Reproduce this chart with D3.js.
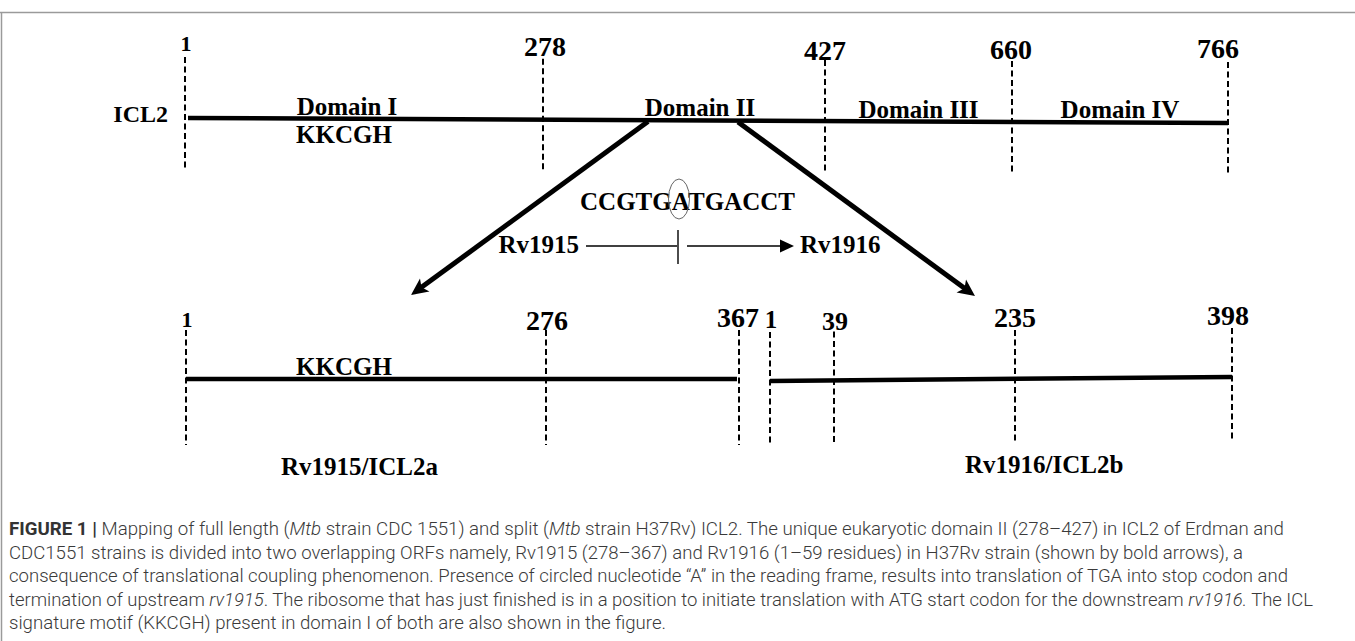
<!DOCTYPE html>
<html><head><meta charset="utf-8">
<script src="https://cdn.jsdelivr.net/npm/d3@7"></script>
<style>
body{margin:0;background:#fff}
svg{display:block}
text{white-space:pre}
</style>
</head><body>
<svg id="c" width="1355" height="641"></svg>
<script>
// ---------------- data ----------------
const fullPositions = [1, 278, 427, 660, 766];          // ICL2 residue marks
const domainNames   = ["Domain I", "Domain II", "Domain III", "Domain IV"];
const domainBounds  = [[1, 278], [278, 427], [427, 660], [660, 766]];
const motif         = "KKCGH";
const rv1915Positions = [1, 276, 367];                  // Rv1915 / ICL2a marks
const rv1916Positions = [1, 39, 235, 398];              // Rv1916 / ICL2b marks
const sequence      = "CCGTGATGACCT";
const circledIndex  = 5;                                // the circled "A"
const proteinNames  = ["ICL2", "Rv1915/ICL2a", "Rv1916/ICL2b"];
const geneNames     = ["Rv1915", "Rv1916"];
const captionLines = [
  [{t:"FIGURE 1 | ", b:1}, {t:"Mapping of full length ("}, {t:"Mtb", i:1}, {t:" strain CDC 1551) and split ("}, {t:"Mtb", i:1}, {t:" strain H37Rv) ICL2. The unique eukaryotic domain II (278\u2013427) in ICL2 of Erdman and"}],
  [{t:"CDC1551 strains is divided into two overlapping ORFs namely, Rv1915 (278\u2013367) and Rv1916 (1\u201359 residues) in H37Rv strain (shown by bold arrows), a"}],
  [{t:"consequence of translational coupling phenomenon. Presence of circled nucleotide \u201cA\u201d in the reading frame, results into translation of TGA into stop codon and"}],
  [{t:"termination of upstream "}, {t:"rv1915", i:1}, {t:". The ribosome that has just finished is in a position to initiate translation with ATG start codon for the downstream "}, {t:"rv1916.", i:1}, {t:" The ICL"}],
  [{t:"signature motif (KKCGH) present in domain I of both are also shown in the figure."}]
];

// ---------------- layout ----------------
const svg = d3.select("#c");
const serif = "'Liberation Serif','Times New Roman',serif";

// frame
svg.append("line").attr("x1",0).attr("x2",1355).attr("y1",12.5).attr("y2",12.5)
  .attr("stroke","#9a9a9a").attr("stroke-width",1.5);
svg.append("line").attr("x1",1.5).attr("x2",1.5).attr("y1",12).attr("y2",641)
  .attr("stroke","#9a9a9a").attr("stroke-width",1.5);

// scales
const xTop = d3.scaleLinear().domain(fullPositions).range([185, 543, 825, 1012, 1228]);
const yTop = d3.scaleLinear().domain([xTop(1), xTop(766)]).range([118, 123]);
const xL = d3.scaleLinear().domain(rv1915Positions).range([186, 546, 739]);
const yL = () => 379;
const xR = d3.scaleLinear().domain(rv1916Positions).range([770, 834, 1015, 1232]);
const yR = d3.scaleLinear().domain([xR(1), xR(398)]).range([381, 377]);

const dash = (g, x, y1, y2) => g.append("line").attr("x1",x).attr("x2",x).attr("y1",y1).attr("y2",y2)
  .attr("stroke","#000").attr("stroke-width",2).attr("stroke-dasharray","6,3.5");
const label = (g, txt, x, y, size, anchor) => g.append("text").attr("x",x).attr("y",y)
  .attr("font-family",serif).attr("font-weight","bold").attr("font-size",size)
  .attr("text-anchor",anchor||"middle").attr("fill","#000").text(txt);

// ---------- full-length ICL2 ----------
const gTop = svg.append("g");
gTop.append("line").attr("x1",xTop(1)+3).attr("x2",xTop(766))
  .attr("y1",yTop(xTop(1))).attr("y2",yTop(xTop(766)))
  .attr("stroke","#000").attr("stroke-width",4.5);
const topLabelSize = [22, 28, 28, 28, 28];
const topLabelDx = [1, 2, 0, -1, -10];
const topLabelDy = [-6, -3, 0, -2, -4];
fullPositions.forEach((p, i) => {
  const x = xTop(p), ly = yTop(x);
  dash(gTop, x, ly - 61, ly + 51);
  label(gTop, String(p), x + topLabelDx[i], ly - 61 + topLabelDy[i], topLabelSize[i]);
});
label(gTop, proteinNames[0], 168, 122, 24, "end");
const domainDx = [-17, 16, 0, 0];
domainNames.forEach((d, i) => {
  const mid = (xTop(domainBounds[i][0]) + xTop(domainBounds[i][1])) / 2;
  label(gTop, d, mid + domainDx[i], yTop(mid) - 4, 25);
});
label(gTop, motif, 344, 143, 25);

// ---------- bold arrows ----------
function bigArrow(x1, y1, x2, y2) {
  const a = Math.atan2(y2 - y1, x2 - x1), L = 17, W = 8;
  const bx = x2 - L * Math.cos(a), by = y2 - L * Math.sin(a);
  svg.append("line").attr("x1",x1).attr("y1",y1)
    .attr("x2",x2 - 10 * Math.cos(a)).attr("y2",y2 - 10 * Math.sin(a))
    .attr("stroke","#000").attr("stroke-width",5);
  svg.append("path").attr("fill","#000").attr("d",
    `M${x2},${y2}L${bx - W*Math.sin(a)},${by + W*Math.cos(a)}L${bx + 4*Math.cos(a)},${by + 4*Math.sin(a)}L${bx + W*Math.sin(a)},${by - W*Math.cos(a)}Z`);
}
bigArrow(648, 121.5, 411, 295);
bigArrow(738, 122, 975, 296);

// ---------- sequence & genes ----------
const seq = svg.append("text").attr("x",580).attr("y",210)
  .attr("font-family",serif).attr("font-weight","bold").attr("font-size",25)
  .attr("textLength",215).attr("lengthAdjust","spacingAndGlyphs").attr("fill","#000");
seq.append("tspan").text(sequence);
svg.append("ellipse").attr("cx",679).attr("cy",199).attr("rx",10.5).attr("ry",20)
  .attr("fill","none").attr("stroke","#666").attr("stroke-width",1);
label(svg, geneNames[0], 579, 253, 25, "end");
label(svg, geneNames[1], 800, 253, 25, "start");
svg.append("line").attr("x1",586).attr("x2",677).attr("y1",246).attr("y2",246).attr("stroke","#000").attr("stroke-width",1.6);
svg.append("line").attr("x1",678).attr("x2",678).attr("y1",230).attr("y2",264).attr("stroke","#000").attr("stroke-width",1.4);
svg.append("line").attr("x1",687).attr("x2",782).attr("y1",246).attr("y2",246).attr("stroke","#000").attr("stroke-width",1.6);
svg.append("path").attr("d","M794,246L780,239.5L780,252.5Z").attr("fill","#000");

// ---------- split proteins ----------
const gBot = svg.append("g");
gBot.append("line").attr("x1",xL(1)).attr("x2",xL(367)-2).attr("y1",yL()).attr("y2",yL())
  .attr("stroke","#000").attr("stroke-width",4.5);
gBot.append("line").attr("x1",xR(1)).attr("x2",xR(398)).attr("y1",yR(xR(1))).attr("y2",yR(xR(398)))
  .attr("stroke","#000").attr("stroke-width",4.5);
const lSize = [22, 28, 28], lDx = [1, 1, -1], lDy = [-3, 0, -3];
rv1915Positions.forEach((p, i) => {
  const x = xL(p), ly = yL();
  dash(gBot, x, ly - 49, ly + 66);
  label(gBot, String(p), x + lDx[i], ly - 49 + lDy[i], lSize[i]);
});
const rSize = [25, 26, 28, 28], rDx = [1, 1, 0, -4], rDy = [-4, -1, -3, -3];
rv1916Positions.forEach((p, i) => {
  const x = xR(p), ly = yR(x);
  dash(gBot, x, ly - 49, ly + 64);
  label(gBot, String(p), x + rDx[i], ly - 49 + rDy[i], rSize[i]);
});
label(gBot, motif, 344, 375, 25);
label(gBot, proteinNames[1], 281, 475, 25, "start");
label(gBot, proteinNames[2], 965, 473, 25, "start");

// ---------- caption ----------
const capY = [535, 558.5, 582, 605.5, 629];
const capW = [1275, 1234, 1279, 1304, 657];
captionLines.forEach((segs, i) => {
  const t = svg.append("text").attr("x",9).attr("y",capY[i])
    .attr("font-family","Roboto,'Liberation Sans',sans-serif").attr("font-size",18)
    .attr("font-weight",300).attr("fill","#3a3a3a")
    .attr("textLength",capW[i]).attr("lengthAdjust","spacingAndGlyphs");
  segs.forEach(s => {
    const ts = t.append("tspan").text(s.t);
    if (s.b) ts.attr("font-weight","bold").attr("fill","#333");
    if (s.i) ts.attr("font-style","italic");
  });
});
</script>
</body></html>
